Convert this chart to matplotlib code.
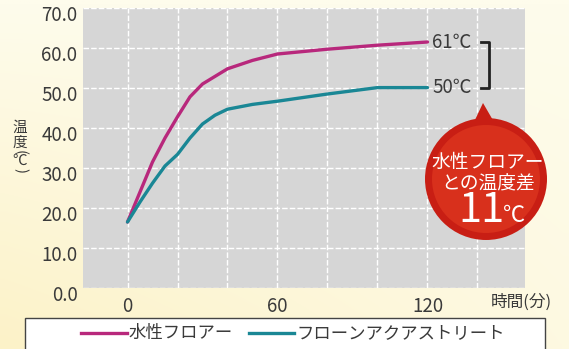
import matplotlib
matplotlib.use("Agg")
import matplotlib.pyplot as plt
import numpy as np
from matplotlib.patches import Ellipse, Polygon, Rectangle
from matplotlib.lines import Line2D
import matplotlib.transforms as mtransforms

plt.rcParams['font.family'] = ['Noto Sans CJK JP', 'DejaVu Sans']

# time in minutes, temperature in deg C
minutes_a = [0, 5, 10, 15, 20, 25, 30, 40, 50, 60, 80, 100, 120]
suisei_floor = [16.5, 24.0, 31.5, 37.5, 42.8, 47.8, 51.0, 54.8, 56.9, 58.5, 59.7, 60.7, 61.5]

minutes_b = [0, 5, 10, 15, 20, 25, 30, 35, 40, 50, 60, 80, 100, 120]
frone_aqua = [16.5, 21.5, 26.2, 30.5, 33.4, 37.5, 41.0, 43.2, 44.7, 45.9, 46.7, 48.5, 50.1, 50.1]

series_names = ['水性フロアー', 'フローンアクアストリート']
end_labels = ['61℃', '50℃']
y_ticks = [0, 10, 20, 30, 40, 50, 60, 70]
x_grid = [0, 20, 40, 60, 80, 100, 120, 140]
x_labels = {0: '0', 60: '60', 120: '120'}

MAGENTA = '#b8287c'
TEAL = '#1a8795'
TXT = '#3a3a3a'

W, H = 569, 349
fig = plt.figure(figsize=(W / 100, H / 100), dpi=100)
fig.patch.set_facecolor('#fdf7dc')


def px(x, y):
    # pixel position (from top-left) -> figure fraction
    return x / W, 1 - y / H


# pale yellow paper, a bit deeper toward the lower left
bg = fig.add_axes([0, 0, 1, 1], zorder=-10)
gx, gy = np.meshgrid(np.linspace(0, 1, 60), np.linspace(0, 1, 40))
t = np.clip(0.9 * gy * (1 - 0.7 * gx), 0, 1)[..., None]
pale = np.array([254, 252, 236]) / 255
deep = np.array([252, 241, 196]) / 255
bg.imshow(pale * (1 - t) + deep * t, aspect='auto', interpolation='bilinear')
bg.axis('off')

ax = fig.add_axes([83 / W, 1 - 288 / H, (525 - 83) / W, (288 - 8) / H])
ax.set_facecolor('#d6d6d6')
ax.set_xlim(-17.8, 159)
ax.set_ylim(0, 70)

for s in ax.spines.values():
    s.set_visible(False)

for y in y_ticks:
    ax.axhline(y, color='white', lw=1, ls=(0, (4, 1.5)), zorder=1)
for x in x_grid:
    ax.axvline(x, color='white', lw=1, ls=(0, (4, 1.5)), zorder=1)

ax.plot(minutes_a, suisei_floor, color=MAGENTA, lw=2.4, zorder=3, solid_capstyle='round')
ax.plot(minutes_b, frone_aqua, color=TEAL, lw=2.4, zorder=3, solid_capstyle='round')

ax.set_yticks(y_ticks)
ax.set_yticklabels([f'{v:.1f}' for v in y_ticks], fontsize=13.5, color=TXT)
ax.set_xticks(list(x_labels.keys()))
ax.set_xticklabels(list(x_labels.values()), fontsize=13.5, color=TXT)
ax.tick_params(length=0)
ax.tick_params(axis='x', pad=6)
ax.tick_params(axis='y', pad=4)

# the y labels sit a little below their gridlines in the original
offset = mtransforms.ScaledTranslation(0, -5 / 100, fig.dpi_scale_trans)
for lab in ax.get_yticklabels():
    lab.set_transform(lab.get_transform() + offset)

# end labels and bracket
ax.text(122, suisei_floor[-1], end_labels[0], fontsize=13.5, color=TXT, va='center', ha='left')
ax.text(122, frone_aqua[-1], end_labels[1], fontsize=13.5, color=TXT, va='center', ha='left')
bx = 144.6
ax.plot([bx - 3, bx, bx, bx - 3],
        [suisei_floor[-1], suisei_floor[-1], frone_aqua[-1], frone_aqua[-1]],
        color='#222222', lw=2, clip_on=False, zorder=4)

# red badge
cx, cy = px(486, 179)
fig.add_artist(Ellipse((cx, cy), 122 / W, 122 / H, transform=fig.transFigure,
                       facecolor='#c81e14', edgecolor='none', zorder=5))
fig.add_artist(Ellipse((cx, cy), 108 / W, 108 / H, transform=fig.transFigure,
                       facecolor='#d8301c', edgecolor='none', zorder=5))
fig.add_artist(Polygon([px(474, 122), px(494, 122), px(483, 103)], closed=True,
                       transform=fig.transFigure, facecolor='#c81e14',
                       edgecolor='none', zorder=5))
fig.text(*px(488, 162), '水性フロアー', fontsize=13.5, color='white',
         ha='center', va='center', zorder=6)
fig.text(*px(488, 184), 'との温度差', fontsize=13.5, color='white',
         ha='center', va='center', zorder=6)
fig.text(*px(481, 211), '11', fontsize=30, color='white',
         ha='center', va='center', zorder=6)
fig.text(*px(514, 215), '℃', fontsize=16, color='white',
         ha='center', va='center', zorder=6)

# y axis title in vertical writing: 温 度 (℃) stacked, parens turned
fig.text(*px(20, 128), '温', fontsize=10.5, color=TXT, ha='center', va='center')
fig.text(*px(20, 143), '度', fontsize=10.5, color=TXT, ha='center', va='center')
fig.text(*px(20, 153), '(', fontsize=10.5, color=TXT, ha='center', va='center', rotation=-90)
fig.text(*px(20, 161), '℃', fontsize=10.5, color=TXT, ha='center', va='center')
fig.text(*px(20, 170), ')', fontsize=10.5, color=TXT, ha='center', va='center', rotation=-90)
fig.text(*px(521, 302), '時間(分)', fontsize=12, color=TXT, ha='center', va='center')

# legend box
fig.add_artist(Rectangle(px(25, 355), 520 / W, 37 / H, transform=fig.transFigure,
                         facecolor='white', edgecolor='#444444', lw=1, zorder=5))
ly = 333
fig.add_artist(Line2D([81 / W, 127 / W], [1 - ly / H] * 2, color=MAGENTA, lw=2.4,
                      transform=fig.transFigure, zorder=6))
fig.text(*px(129, ly), series_names[0], fontsize=12.5, color=TXT, va='center', zorder=6)
fig.add_artist(Line2D([249 / W, 294 / W], [1 - ly / H] * 2, color=TEAL, lw=2.4,
                      transform=fig.transFigure, zorder=6))
fig.text(*px(296, ly), series_names[1], fontsize=12.5, color=TXT, va='center', zorder=6)

fig.savefig('out.png', dpi=100, facecolor=fig.get_facecolor())
